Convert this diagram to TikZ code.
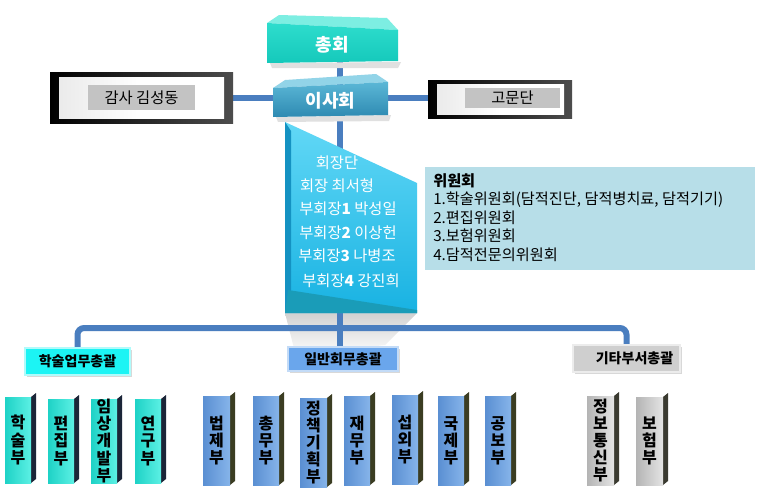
\documentclass[tikz,border=0pt]{standalone}
\usepackage{fontspec}
\setmainfont{Noto Sans CJK KR}
\usetikzlibrary{fit,backgrounds,shadows}
\definecolor{lineblue}{HTML}{4A7EBF}
\definecolor{tealA}{HTML}{5CF0E4}
\definecolor{tealB}{HTML}{1ED2C6}
\definecolor{tealside}{HTML}{1B2538}
\definecolor{blueA}{HTML}{86B4EA}
\definecolor{blueB}{HTML}{5A8FD2}
\definecolor{blueside}{HTML}{3B3D22}
\definecolor{grayA}{HTML}{E4E4E4}
\definecolor{grayB}{HTML}{B4B4B4}
\definecolor{grayside}{HTML}{3A3A30}
\definecolor{chongA}{HTML}{2EDDCD}
\definecolor{chongB}{HTML}{15C9BB}
\definecolor{chongTop}{HTML}{7DEEE2}
\definecolor{isaA}{HTML}{5BB7D6}
\definecolor{isaB}{HTML}{2E8AB2}
\definecolor{isaTop}{HTML}{92D4E8}
\definecolor{hoeA}{HTML}{62D8F6}
\definecolor{hoeB}{HTML}{18B2E2}
\definecolor{hoeDark}{HTML}{1492C2}
\definecolor{hoeBase}{HTML}{1A9CB8}
\definecolor{wiwon}{HTML}{B7DEE8}
\definecolor{labelgray}{HTML}{C3C3C3}
\definecolor{g1face}{HTML}{1CF4F4}
\definecolor{g2face}{HTML}{6AA6EC}
\definecolor{g3face}{HTML}{CFCFCF}
\newcommand\deptbox[8]{%
  \fill[#7] (#4,#3+4) -- (#4+5,#3) -- (#4+5,#5-4) -- (#4,#5) -- cycle;
  \node[fit={(#2,#3+4)(#4,#5)}, box, #6] (#1) {};
  \node[vtxt] (#1t) at (#1.center) {#8};}
\begin{document}
\begin{tikzpicture}[x=0.75pt,y=-0.75pt,
  box/.style={inner sep=0pt, outer sep=0pt},
  conn/.style={draw=lineblue, line width=4.5pt},
  vtxt/.style={font=\fontsize{12}{12.8}\selectfont\bfseries, align=center, text=black, inner sep=0pt},
  tealface/.style={left color=tealB, right color=tealA},
  blueface/.style={left color=blueB, right color=blueA},
  grayface/.style={left color=grayB, right color=grayA},
  grouptxt/.style={font=\fontsize{10.5}{12}\selectfont\bfseries, text=black, inner sep=0pt},
  bosstxt/.style={font=\fontsize{13.5}{15}\selectfont\bfseries, text=white, inner sep=0pt},
  lbltxt/.style={font=\fontsize{11.5}{13}\selectfont, text=black, inner sep=0pt},
  hoetxt/.style={font=\fontsize{11.5}{13}\selectfont, text=white},
  gshadow/.style={drop shadow={opacity=0.3, shadow xshift=1.2pt, shadow yshift=-1.5pt}}]
\useasboundingbox (0,0) rectangle (760,496);
\begin{scope}[on background layer]
\fill[white] (0,0) rectangle (760,496);
\shade[top color=black!18, bottom color=white] (285,313) -- (417,313) -- (385,345) -- (296,356) -- cycle;
\end{scope}

% ---- 총회
\fill[black!12] (270,63) -- (401,62) -- (398,68) -- (272,68) -- cycle;
\fill[chongTop] (267,23) -- (279,15) -- (387,18) -- (398,30) -- cycle;
\shade[top color=chongA, bottom color=chongB] (267,23) -- (398,30) -- (398,61) -- (267,63) -- cycle;
\node[fit={(267,28)(398,62)}, box] (chong) {};
\node[bosstxt] (chongt) at (chong.center) {총회};

% ---- 이사회
\fill[black!12] (276,117) -- (391,115) -- (389,121) -- (278,122) -- cycle;
\fill[isaTop] (273,88) -- (285,80) -- (376,74) -- (388,82) -- cycle;
\shade[top color=isaA, bottom color=isaB] (273,88) -- (388,82) -- (388,115) -- (273,117) -- cycle;
\node[fit={(273,86)(388,116)}, box] (isa) {};
\node[bosstxt] (isat) at (isa.center) {이사회};

% ---- 감사 / 고문단
\node[fit={(50,72)(233,123)}, box, left color=black, right color=black!70, middle color=black!85] (gamsa) {};
\node[fit={(59,77)(224,118)}, box, left color=black!8, right color=white, middle color=white] (gamsain) {};
\node[fit={(88,85)(195,110)}, box, fill=labelgray] (gamsalbl) {};
\node[lbltxt] (gamsat) at (gamsalbl.center) {감사 김성동};
\node[fit={(428,80)(572,118)}, box, left color=black, right color=black!70, middle color=black!85] (gomun) {};
\node[fit={(437,84)(564,114)}, box, left color=black!8, right color=white, middle color=white] (gomunin) {};
\node[fit={(465,88)(560,108)}, box, fill=labelgray] (gomunlbl) {};
\node[lbltxt] (gomunt) at (gomunlbl.center) {고문단};

% ---- 회장단
\shade[top color=hoeA, bottom color=hoeB] (285,122) -- (417,183) -- (417,313) -- (285,313) -- cycle;
\fill[hoeDark] (285,122) -- (291,131) -- (291,292) -- (285,313) -- cycle;
\fill[hoeBase] (288,290) -- (417,310) -- (417,313) -- (285,313) -- cycle;
\node[hoetxt] (h0) at (337,163) {회장단};
\node[hoetxt] (h1) at (337,186) {회장 최서형};
\node[hoetxt] (h2) at (348,209) {부회장\textbf{1} 박성일};
\node[hoetxt] (h3) at (348,233) {부회장\textbf{2} 이상헌};
\node[hoetxt] (h4) at (347,256) {부회장\textbf{3} 나병조};
\node[hoetxt] (h5) at (351,281) {부회장\textbf{4} 강진희};

% ---- 위원회
\node[fit={(425,167)(755,270)}, box, fill=wiwon] (wiwonbox) {};
\node[anchor=north west, align=left, inner sep=0pt, font=\fontsize{11.4}{13.9}\selectfont] (wiwontext) at (433,173)
 {\textbf{위원회}\\1.학술위원회(담적진단, 담적병치료, 담적기기)\\2.편집위원회\\3.보험위원회\\4.담적전문의위원회};

% ---- group heads
\node[fit={(25,348)(130,375)}, box, gshadow, fill=g1face, draw=g1face!35, line width=1.5pt] (g1) {};
\node[grouptxt] (g1t) at (g1.center) {학술업무총괄};
\node[fit={(288,347)(398,371)}, box, gshadow, fill=g2face, draw=g2face!40, line width=1.5pt] (g2) {};
\node[grouptxt] (g2t) at (g2.center) {일반회무총괄};
\node[fit={(573,345)(680,372)}, box, gshadow, fill=g3face, draw=g3face!40, line width=1.5pt] (g3) {};
\node[grouptxt] (g3t) at ([xshift=6pt]g3.center) {기타부서총괄};

% ---- departments
\deptbox{d1}{5}{393}{31}{483}{tealface}{tealside}{학\\술\\부}
\deptbox{d2}{48}{395}{74}{483}{tealface}{tealside}{편\\집\\부}
\deptbox{d3}{91}{395}{117}{483}{tealface}{tealside}{임\\상\\개\\발\\부}
\deptbox{d4}{135}{395}{161}{483}{tealface}{tealside}{연\\구\\부}
\deptbox{d5}{203}{392}{230}{485}{blueface}{blueside}{법\\제\\부}
\deptbox{d6}{253}{392}{279}{485}{blueface}{blueside}{총\\무\\부}
\deptbox{d7}{300}{394}{327}{487}{blueface}{blueside}{정\\책\\기\\획\\부}
\deptbox{d8}{344}{392}{370}{485}{blueface}{blueside}{재\\무\\부}
\deptbox{d9}{392}{391}{418}{484}{blueface}{blueside}{섭\\외\\부}
\deptbox{d10}{438}{392}{464}{485}{blueface}{blueside}{국\\제\\부}
\deptbox{d11}{485}{392}{511}{485}{blueface}{blueside}{공\\보\\부}
\deptbox{d12}{587}{392}{614}{485}{grayface}{grayside}{정\\보\\통\\신\\부}
\deptbox{d13}{636}{393}{663}{485}{grayface}{grayside}{보\\험\\부}

% ---- connectors
\coordinate (hub) at (340,328);
\begin{scope}[on background layer]
\draw[conn] (hub |- chong.south) -- (hub);
\draw[conn] (gamsa.east) -- (gamsa.east -| gomun.west);
\draw[conn, rounded corners=5pt] (g1.north) -- (g1.north |- hub) -- (g3.north |- hub) -- (g3.north);
\draw[conn] (hub) -- (hub |- g2.north);
\end{scope}
\end{tikzpicture}
\end{document}
